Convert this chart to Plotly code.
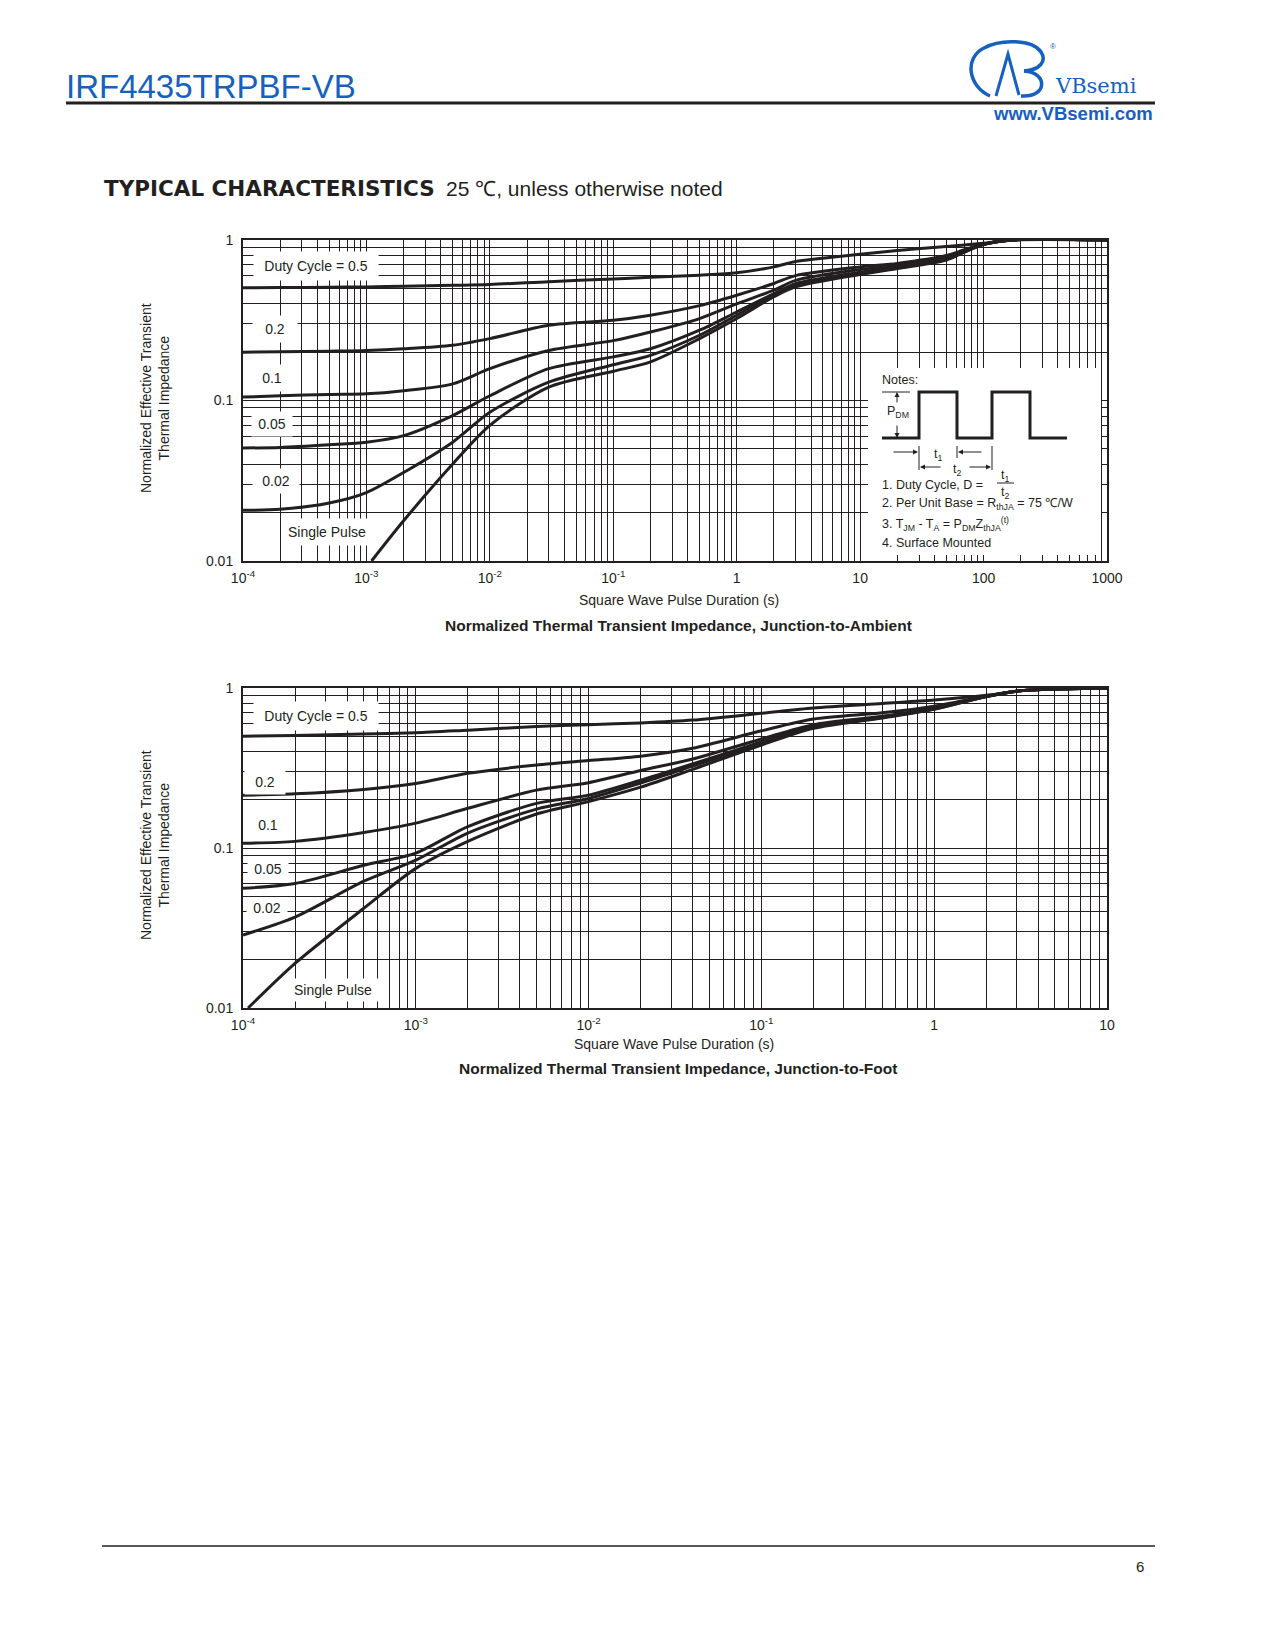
import plotly.graph_objects as go

# ---- page / layout helpers (page pixel -> paper), body margin compensated ----
W, H = 1275, 1650
OFF = 8


def px(x):
    return (x - OFF) / W


def py(y):
    return 1 - (y - OFF) / H


# ---- data: junction-to-ambient (top chart) ----
t_ja = [1e-4, 2e-4, 5e-4, 1e-3, 2e-3, 5e-3, 1e-2, 3e-2, 0.1, 0.2, 0.5, 1, 2, 3, 10, 20, 50, 70, 100, 170, 1000]
zja_d05 = [0.504, 0.505, 0.508, 0.51, 0.515, 0.522, 0.528, 0.55, 0.572, 0.585, 0.604, 0.625, 0.68, 0.735, 0.815, 0.86, 0.91, 0.93, 0.955, 1.0, 1.0]
zja_d02 = [0.2, 0.201, 0.203, 0.205, 0.21, 0.221, 0.243, 0.294, 0.316, 0.34, 0.39, 0.453, 0.536, 0.60, 0.68, 0.715, 0.80, 0.87, 0.94, 1.0, 1.0]
zja_d01 = [0.105, 0.107, 0.109, 0.11, 0.115, 0.127, 0.158, 0.205, 0.236, 0.267, 0.324, 0.40, 0.487, 0.56, 0.655, 0.695, 0.785, 0.86, 0.94, 1.0, 1.0]
zja_d005 = [0.0506, 0.051, 0.053, 0.055, 0.0604, 0.0806, 0.107, 0.158, 0.187, 0.21, 0.274, 0.356, 0.464, 0.535, 0.63, 0.68, 0.77, 0.85, 0.94, 1.0, 1.0]
zja_d002 = [0.0207, 0.021, 0.023, 0.0267, 0.0356, 0.055, 0.0845, 0.130, 0.167, 0.191, 0.255, 0.34, 0.453, 0.52, 0.615, 0.67, 0.76, 0.845, 0.94, 1.0, 1.0]
t_ja_sp = [1.1e-3, 2e-3, 5e-3, 1e-2, 3e-2, 0.1, 0.2, 0.5, 1, 2, 3, 10, 20, 50, 70, 100, 170, 1000]
zja_sp = [0.01, 0.0178, 0.0402, 0.07, 0.121, 0.152, 0.174, 0.243, 0.324, 0.443, 0.51, 0.61, 0.665, 0.75, 0.84, 0.94, 1.0, 1.0]

# ---- data: junction-to-foot (bottom chart) ----
t_jf = [1e-4, 2e-4, 5e-4, 1e-3, 2e-3, 5e-3, 1e-2, 2e-2, 4e-2, 0.1, 0.2, 0.5, 1, 2, 3, 5, 10]
zjf_d05 = [0.50, 0.505, 0.515, 0.525, 0.545, 0.574, 0.59, 0.605, 0.63, 0.695, 0.75, 0.80, 0.84, 0.90, 0.955, 0.985, 1.0]
zjf_d02 = [0.214, 0.218, 0.232, 0.253, 0.293, 0.33, 0.352, 0.375, 0.42, 0.54, 0.64, 0.70, 0.77, 0.89, 0.955, 0.985, 1.0]
zjf_d01 = [0.107, 0.11, 0.125, 0.143, 0.177, 0.23, 0.256, 0.305, 0.36, 0.48, 0.59, 0.665, 0.75, 0.885, 0.955, 0.985, 1.0]
zjf_d005 = [0.056, 0.06, 0.078, 0.093, 0.136, 0.19, 0.214, 0.265, 0.335, 0.46, 0.575, 0.66, 0.745, 0.885, 0.955, 0.985, 1.0]
zjf_d002 = [0.0286, 0.037, 0.062, 0.084, 0.124, 0.175, 0.204, 0.255, 0.325, 0.45, 0.57, 0.655, 0.74, 0.885, 0.955, 0.985, 1.0]
t_jf_sp = [1.07e-4, 2e-4, 5e-4, 1e-3, 2e-3, 5e-3, 1e-2, 2e-2, 4e-2, 0.1, 0.2, 0.5, 1, 2, 3, 5, 10]
zjf_sp = [0.01, 0.019, 0.042, 0.0746, 0.11, 0.163, 0.195, 0.24, 0.31, 0.44, 0.56, 0.65, 0.735, 0.885, 0.955, 0.985, 1.0]

# ---- tick labels ----
xlabels_ja = ["10<sup>-4</sup>", "10<sup>-3</sup>", "10<sup>-2</sup>", "10<sup>-1</sup>", "1", "10", "100", "1000"]
xlabels_jf = ["10<sup>-4</sup>", "10<sup>-3</sup>", "10<sup>-2</sup>", "10<sup>-1</sup>", "1", "10"]
ylabels = ["0.01", "0.1", "1"]

FONT = "Liberation Sans, Arial, Helvetica, sans-serif"
INK = "#231f20"
BLUE = "#1561bf"


def log_grid(lo, hi, labels):
    vals, text = [], []
    for e in range(lo, hi):
        for m in range(1, 10):
            vals.append(m * 10.0 ** e)
            text.append(labels[e - lo] if m == 1 else "")
    vals.append(10.0 ** hi)
    text.append(labels[-1])
    return vals, text


fig = go.Figure()

curves_ja = [(t_ja, zja_d05), (t_ja, zja_d02), (t_ja, zja_d01), (t_ja, zja_d005), (t_ja, zja_d002), (t_ja_sp, zja_sp)]
curves_jf = [(t_jf, zjf_d05), (t_jf, zjf_d02), (t_jf, zjf_d01), (t_jf, zjf_d005), (t_jf, zjf_d002), (t_jf_sp, zjf_sp)]

for xs, ys in curves_ja:
    fig.add_trace(go.Scatter(x=xs, y=ys, mode="lines", xaxis="x", yaxis="y",
                             line=dict(color=INK, width=3, shape="spline", smoothing=0.8),
                             showlegend=False, hoverinfo="skip"))
for xs, ys in curves_jf:
    fig.add_trace(go.Scatter(x=xs, y=ys, mode="lines", xaxis="x2", yaxis="y2",
                             line=dict(color=INK, width=3, shape="spline", smoothing=0.8),
                             showlegend=False, hoverinfo="skip"))

xv1, xt1 = log_grid(-4, 3, xlabels_ja)
xv2, xt2 = log_grid(-4, 1, xlabels_jf)
yv, yt = log_grid(-2, 0, ylabels)

axis_common = dict(type="log", showgrid=True, gridcolor=INK, gridwidth=1, automargin=False,
                   showline=True, linecolor=INK, linewidth=2, mirror=True,
                   ticks="", zeroline=False, tickfont=dict(family=FONT, size=14, color=INK))

fig.update_layout(
    template="none",
    width=W, height=H,
    margin=dict(l=0, r=0, t=0, b=0, pad=0, autoexpand=False),
    paper_bgcolor="white", plot_bgcolor="white",
    font=dict(family=FONT, color=INK),
    showlegend=False,
    xaxis=dict(axis_common, domain=[px(243), px(1107)], range=[-4, 3], anchor="y",
               tickmode="array", tickvals=xv1, ticktext=xt1, ticklabelstandoff=3),
    yaxis=dict(axis_common, domain=[py(561), py(240)], range=[-2, 0], anchor="x",
               tickmode="array", tickvals=yv, ticktext=yt, ticklabelstandoff=5),
    xaxis2=dict(axis_common, domain=[px(243), px(1107)], range=[-4, 1], anchor="y2",
                tickmode="array", tickvals=xv2, ticktext=xt2, ticklabelstandoff=3),
    yaxis2=dict(axis_common, domain=[py(1008), py(688)], range=[-2, 0], anchor="x2",
                tickmode="array", tickvals=yv, ticktext=yt, ticklabelstandoff=5),
)

ann = []


def text(x, y, s, size=14, anchor="center", family=FONT, color=INK, **kw):
    ann.append(dict(x=px(x), y=py(y), xref="paper", yref="paper", text=s, showarrow=False,
                    xanchor=anchor, yanchor="middle", font=dict(family=family, size=size, color=color), **kw))


def label(x, y, s, w, h):
    # curve label on a white patch covering the grid
    ann.append(dict(x=px(x), y=py(y), xref="paper", yref="paper", text=s, showarrow=False,
                    xanchor="center", yanchor="middle", width=w, height=h, bgcolor="white",
                    borderpad=0, font=dict(family=FONT, size=14, color=INK)))


def arrow(x_head, y_head, x_tail, y_tail):
    ann.append(dict(x=px(x_head), y=py(y_head), xref="paper", yref="paper", text="",
                    showarrow=True, ax=x_tail - x_head, ay=y_tail - y_head, axref="pixel", ayref="pixel",
                    arrowhead=2, arrowsize=1, arrowwidth=1, arrowcolor=INK))


shapes = []


def seg(x0, y0, x1, y1, w=1, color=INK):
    shapes.append(dict(type="line", xref="paper", yref="paper", x0=px(x0), y0=py(y0), x1=px(x1), y1=py(y1),
                       line=dict(color=color, width=w), layer="above"))


def pt(p):
    return f"{px(p[0]):.5f},{py(p[1]):.5f}"


def polyline(pts, color, w):
    path = "M " + pt(pts[0]) + "".join(" L " + pt(p) for p in pts[1:])
    shapes.append(dict(type="path", xref="paper", yref="paper", path=path,
                       line=dict(color=color, width=w), layer="above"))


def bezier(start, triples, color, w):
    path = "M " + pt(start) + "".join(" C " + " ".join(pt(p) for p in tr) for tr in triples)
    shapes.append(dict(type="path", xref="paper", yref="paper", path=path,
                       line=dict(color=color, width=w), layer="above"))


# header
text(64, 87, "IRF4435TRPBF-VB", size=33, anchor="left", color=BLUE)
seg(66, 103, 1155, 103, w=3)
text(1053, 86, "VBsemi", size=21, anchor="left", color=BLUE, family="DejaVu Serif, Liberation Serif, serif")
text(1155, 114, "<b>www.VBsemi.com</b>", size=18.5, anchor="right", color=BLUE)
text(1053, 46, "®", size=8, color=BLUE)
bezier((990, 96), [((968, 86), (964, 58), (984, 48)),
                   ((1000, 39), (1032, 39), (1041, 52)),
                   ((1047, 61), (1040, 70), (1024, 71))], BLUE, 3.5)
polyline([(996, 96), (1008, 54), (1019, 95)], BLUE, 3)
bezier((1024, 71), [((1048, 72), (1048, 98), (1021, 96))], BLUE, 3.5)

text(102, 188, "<b>TYPICAL CHARACTERISTICS</b>", size=21.5, anchor="left", family="DejaVu Sans, Verdana, sans-serif")
text(444, 188, "25 \u2103, unless otherwise noted", size=21, anchor="left")

# top chart texts
text(155, 398, "Normalized Effective Transient<br>Thermal Impedance", size=14, textangle=-90)
text(679, 600, "Square Wave Pulse Duration (s)", size=14)
text(678, 625, "<b>Normalized Thermal Transient Impedance, Junction-to-Ambient</b>", size=15.5)
label(316, 266, "Duty Cycle = 0.5", 124, 28)
label(275, 329, "0.2", 44, 26)
label(272, 378, "0.1", 40, 26)
label(272, 424, "0.05", 40, 24)
label(276, 481, "0.02", 46, 24)
label(327, 532, "Single Pulse", 90, 26)

# bottom chart texts
text(155, 845, "Normalized Effective Transient<br>Thermal Impedance", size=14, textangle=-90)
text(674, 1044, "Square Wave Pulse Duration (s)", size=14)
text(678, 1068, "<b>Normalized Thermal Transient Impedance, Junction-to-Foot</b>", size=15.5)
label(316, 716, "Duty Cycle = 0.5", 124, 28)
label(265, 782, "0.2", 40, 24)
label(268, 825, "0.1", 40, 24)
label(268, 869, "0.05", 40, 22)
label(267, 908, "0.02", 40, 20)
label(333, 990, "Single Pulse", 92, 22)

# notes box in top chart
shapes.append(dict(type="rect", xref="paper", yref="paper", x0=px(868), x1=px(1101), y0=py(555), y1=py(368),
                   fillcolor="white", line=dict(width=0), layer="above"))
polyline([(882, 438), (919, 438), (919, 392), (957, 392), (957, 438), (992, 438), (992, 392),
          (1030, 392), (1030, 438), (1067, 438)], INK, 3)
seg(882, 392, 910, 392)
seg(919, 446, 919, 470)
seg(957, 446, 957, 458)
seg(992, 446, 992, 470)
seg(997, 483, 1014, 483)
arrow(897, 392, 897, 404)
arrow(897, 438, 897, 424)
arrow(918, 452, 892, 452)
arrow(958, 452, 983, 452)
arrow(920, 467, 942, 467)
arrow(991, 467, 968, 467)

text(880, 380, "Notes:", size=12.5, anchor="left")
text(898, 412, "P<sub>DM</sub>", size=12.5)
text(938, 455, "t<sub>1</sub>", size=12.5)
text(957, 470, "t<sub>2</sub>", size=12.5)
text(880, 485, "1. Duty Cycle, D =", size=12.5, anchor="left")
text(1005, 476, "t<sub>1</sub>", size=12.5)
text(1005, 493, "t<sub>2</sub>", size=12.5)
text(880, 504, "2. Per Unit Base = R<sub>thJA</sub> = 75 \u2103/W", size=12.5, anchor="left")
text(880, 524, "3. T<sub>JM</sub> - T<sub>A</sub> = P<sub>DM</sub>Z<sub>thJA</sub><sup>(t)</sup>", size=12.5, anchor="left")
text(880, 543, "4. Surface Mounted", size=12.5, anchor="left")

# footer
seg(102, 1546, 1155, 1546, w=1.5)
text(1140, 1566, "6", size=15)

fig.update_layout(annotations=ann, shapes=shapes)
fig.write_html("out.html")
